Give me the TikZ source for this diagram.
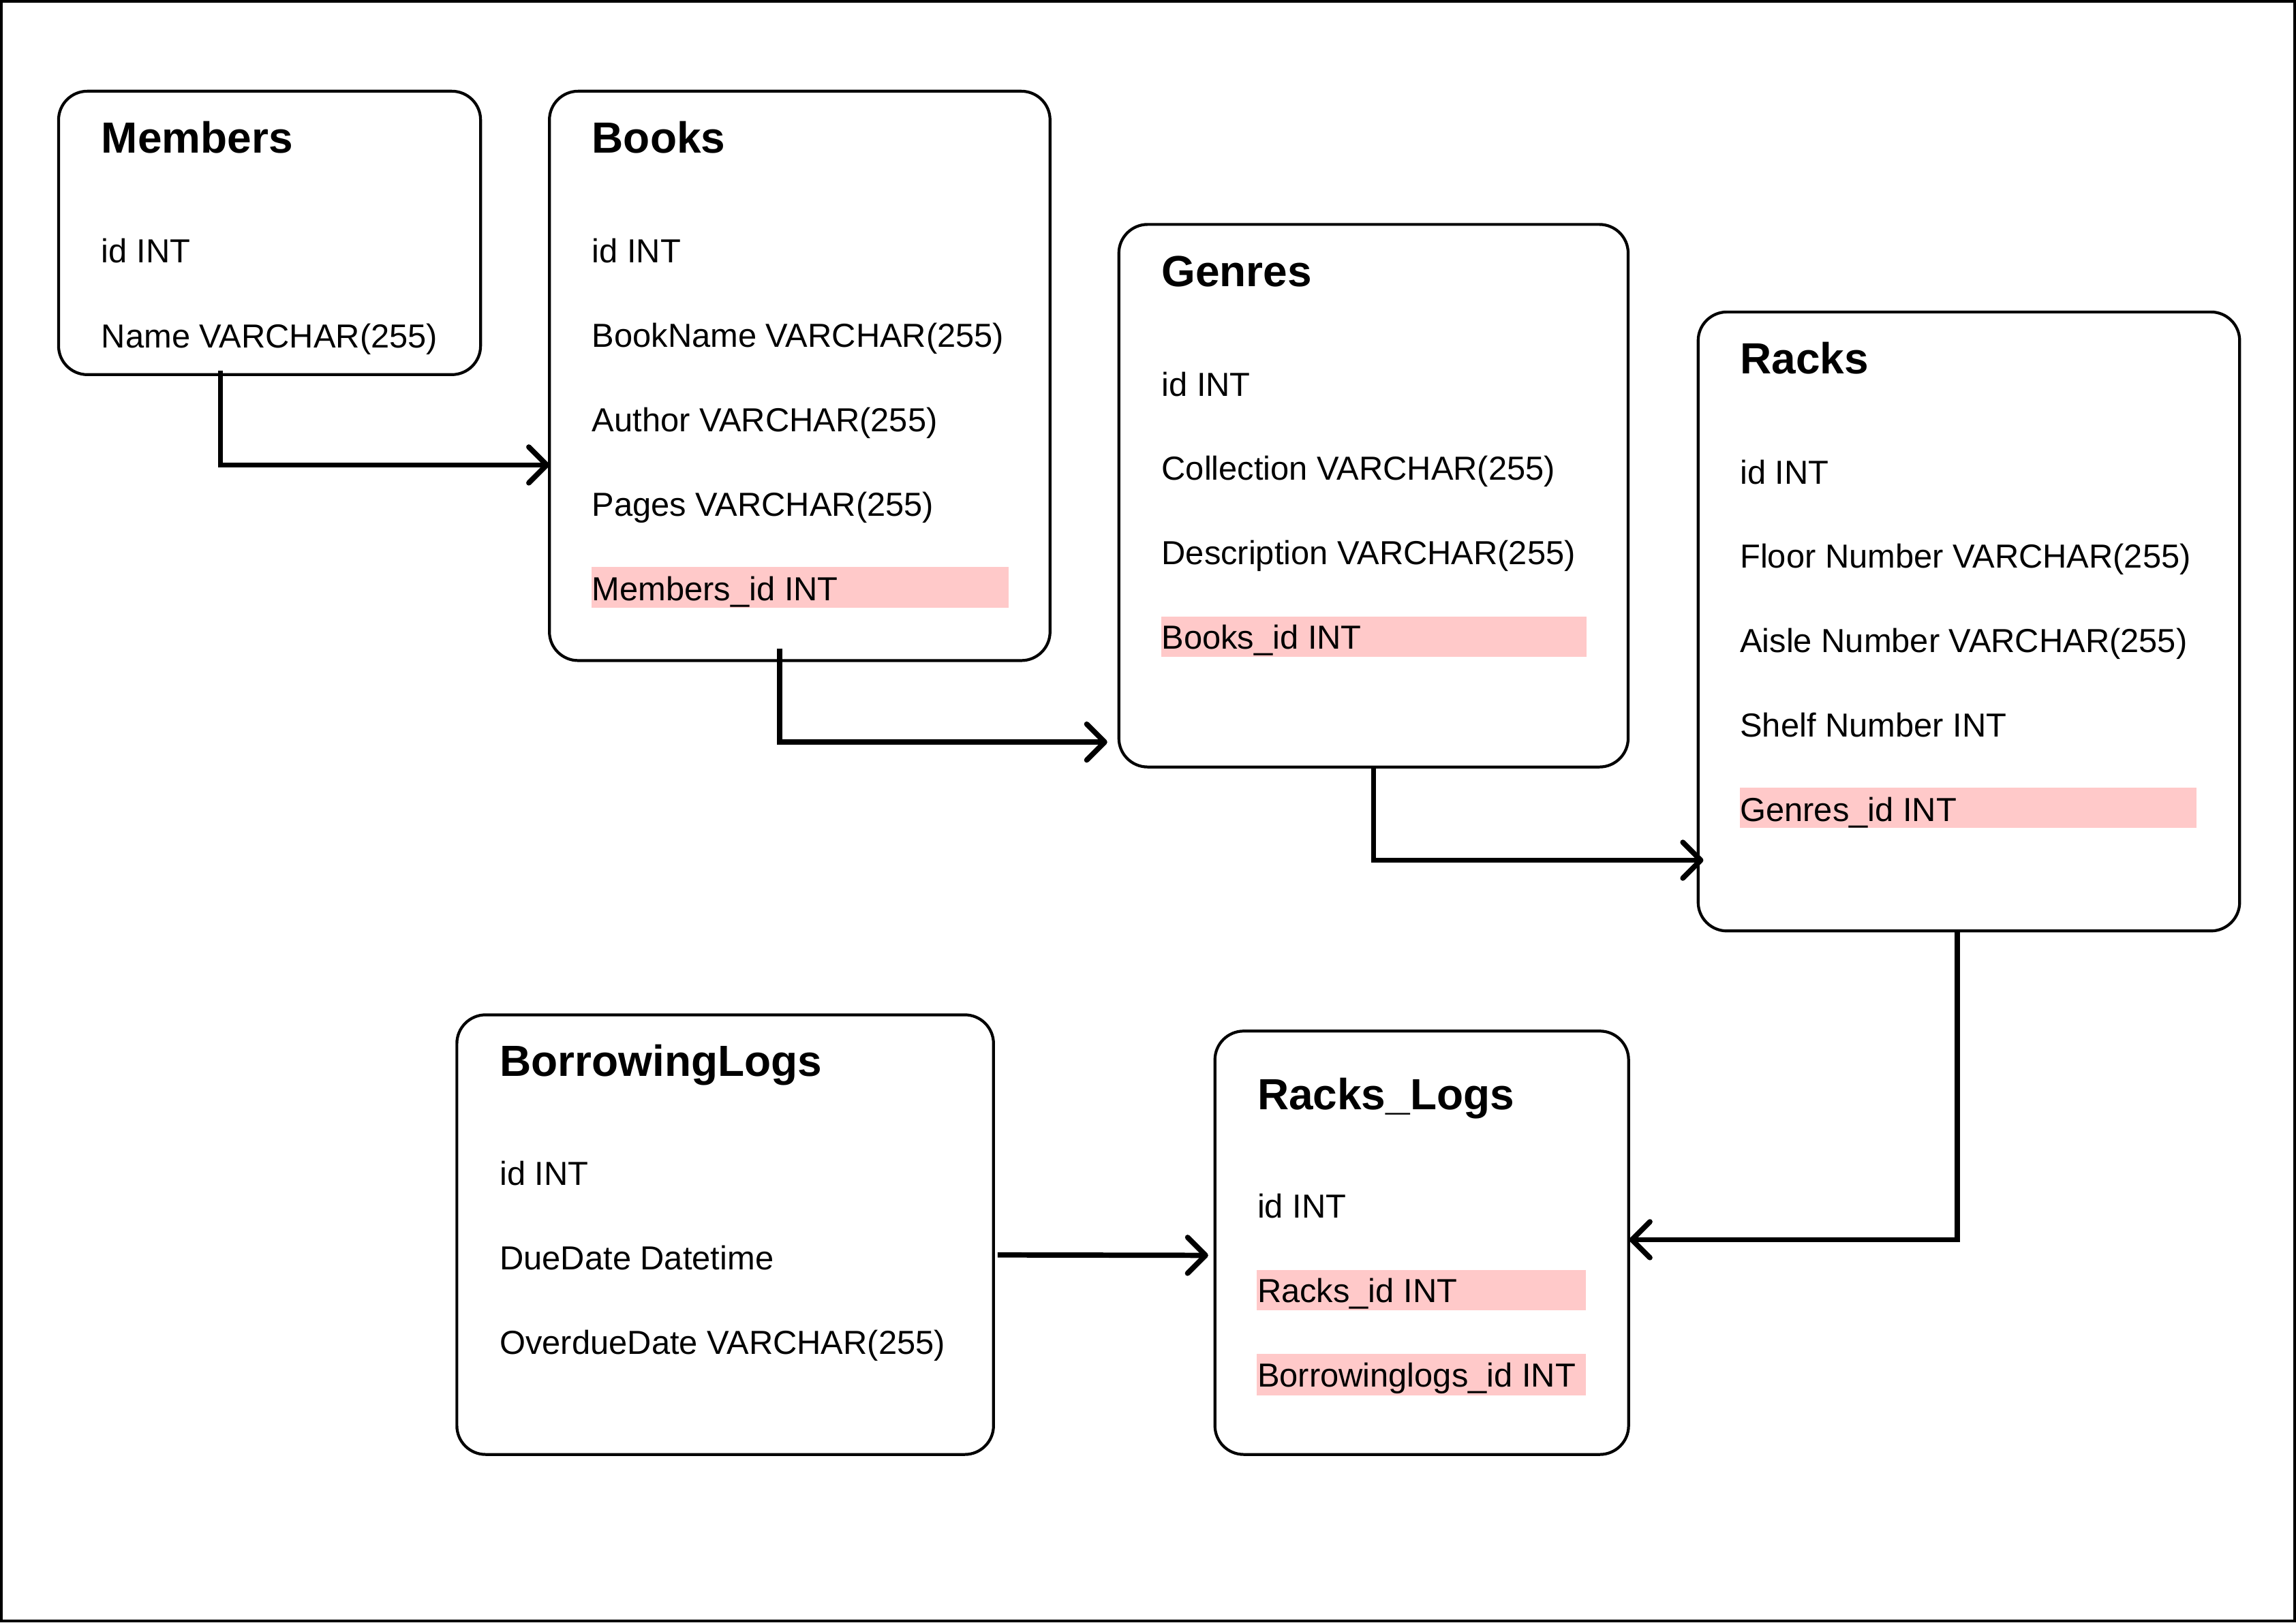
\documentclass[tikz,border=0pt]{standalone}
\usepackage{fontspec}
\setmainfont{Liberation Sans}
\usetikzlibrary{arrows.meta,calc}
\definecolor{hlpink}{HTML}{FFC9C9}
\def\dpx{0.021486cm}
\tikzset{
  tbl/.style={draw, line width=1.2pt, rounded corners=12pt, anchor=north west, inner sep=0pt, outer sep=0pt},
  ttl/.style={anchor=base west, inner sep=0pt, font=\bfseries\fontsize{18.2}{20}\selectfont},
  fld/.style={anchor=base west, inner sep=0pt, font=\fontsize{13.9}{16}\selectfont},
  hl/.style={fill=hlpink, anchor=north west, inner sep=0pt, outer sep=0pt},
  conn/.style={line width=2.2pt, -{Straight Barb[length=7.5pt,width=15pt,round]}},
}
\begin{document}
\begin{tikzpicture}[x=\dpx, y=-\dpx]
\useasboundingbox (0,0) rectangle (1568,1108.2);
\draw[line width=1.2pt] (0.98,0.98) rectangle (1567.02,1107.2);

% Members
\node[tbl, minimum width=288.2*\dpx, minimum height=193.6*\dpx] (members) at (40,62.3) {};
\node[ttl] (mT) at (69,104.5) {Members};
\node[fld] (m1) at (69,179.5) {id INT};
\node[fld] (m2) at (69,237.5) {Name VARCHAR(255)};

% Books
\node[tbl, minimum width=341.9*\dpx, minimum height=388.9*\dpx] (books) at (375.2,62.3) {};
\node[hl, minimum width=284.6*\dpx, minimum height=27.7*\dpx] (bH) at (404,387.3) {};
\node[ttl] (bT) at (404,104.5) {Books};
\node[fld] (b1) at (404,179.5) {id INT};
\node[fld] (b2) at (404,237.3) {BookName VARCHAR(255)};
\node[fld] (b3) at (404,294.9) {Author VARCHAR(255)};
\node[fld] (b4) at (404,352.5) {Pages VARCHAR(255)};
\node[fld] (b5) at (404,410.1) {Members\_id INT};

% Genres
\node[tbl, minimum width=347.8*\dpx, minimum height=370.6*\dpx] (genres) at (764.1,153.3) {};
\node[hl, minimum width=290.5*\dpx, minimum height=27.5*\dpx] (gH) at (793,421) {};
\node[ttl] (gT) at (793,195.5) {Genres};
\node[fld] (g1) at (793,270.5) {id INT};
\node[fld] (g2) at (793,328.1) {Collection VARCHAR(255)};
\node[fld] (g3) at (793,385.7) {Description VARCHAR(255)};
\node[fld] (g4) at (793,443.3) {Books\_id INT};

% Racks
\node[tbl, minimum width=369.8*\dpx, minimum height=422.8*\dpx] (racks) at (1159.7,213.1) {};
\node[hl, minimum width=312*\dpx, minimum height=27.7*\dpx] (rH) at (1188,538) {};
\node[ttl] (rT) at (1188,255.5) {Racks};
\node[fld] (r1) at (1188,330.5) {id INT};
\node[fld] (r2) at (1188,388.1) {Floor Number VARCHAR(255)};
\node[fld] (r3) at (1188,445.7) {Aisle Number VARCHAR(255)};
\node[fld] (r4) at (1188,503.3) {Shelf Number INT};
\node[fld] (r5) at (1188,560.9) {Genres\_id INT};

% BorrowingLogs
\node[tbl, minimum width=366.5*\dpx, minimum height=300.3*\dpx] (blogs) at (312,693.2) {};
\node[ttl] (blT) at (341,735.3) {BorrowingLogs};
\node[fld] (bl1) at (341,809.7) {id INT};
\node[fld] (bl2) at (341,867.4) {DueDate Datetime};
\node[fld] (bl3) at (341,925) {OverdueDate VARCHAR(255)};

% Racks_Logs
\node[tbl, minimum width=282.5*\dpx, minimum height=289.2*\dpx] (rlogs) at (829.7,704.3) {};
\node[hl, minimum width=224.5*\dpx, minimum height=27.6*\dpx] (rlH1) at (858.4,867.6) {};
\node[hl, minimum width=224.5*\dpx, minimum height=28*\dpx] (rlH2) at (858.4,925) {};
\node[ttl] (rlT) at (858.4,758) {Racks\_Logs};
\node[fld] (rl1) at (858.4,832) {id INT};
\node[fld] (rl2) at (858.4,889.8) {Racks\_id INT};
\node[fld] (rl3) at (858.4,947.4) {Borrowinglogs\_id INT};

% Connectors
\draw[conn] ($(members.south west)+(110.6,-2.7)$) |- ($(books.north west)+(0,255.3)$);
\draw[conn] ($(books.south west)+(157.2,-8.2)$) |- ($(genres.north west)+(-7.9,353.6)$);
\draw[conn] ($(genres.south west)+(173.9,0)$) |- ($(racks.north west)+(3.6,374.5)$);
\draw[conn] ($(racks.south west)+(177,0)$) |- ($(rlogs.north east)+(0.5,142.5)$);
\draw[conn] ($(blogs.north east)+(2.8,164)$) -- ($(rlogs.north west)+(-4.6,153.2)$);
\end{tikzpicture}
\end{document}
